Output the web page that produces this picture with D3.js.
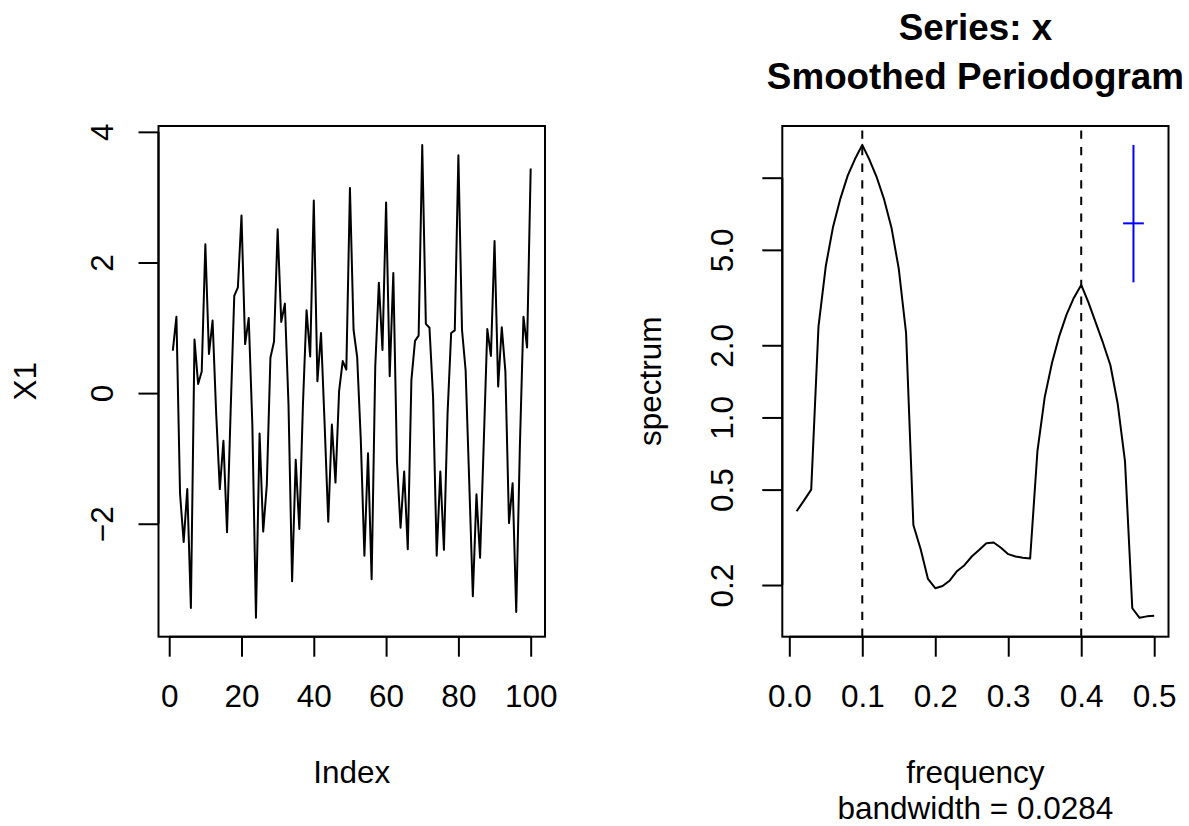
<!DOCTYPE html>
<html>
<head>
<meta charset="utf-8">
<script src="https://cdn.jsdelivr.net/npm/d3@7"></script>
<style>
  body { margin: 0; background: #fff; }
  svg text { font-family: "Liberation Sans", Arial, Helvetica, sans-serif; fill: #000; }
</style>
</head>
<body>
<div id="chart"></div>
<script>
// left panel: the raw series
var x1Values = [
  0.65, 1.17, -1.54, -2.28, -1.47, -3.29, 0.82, 0.14, 0.33, 2.28,
  0.60, 1.11, -0.32, -1.47, -0.73, -2.13, -0.27, 1.49, 1.62, 2.72,
  0.75, 1.15, -0.48, -3.44, -0.62, -2.12, -1.41, 0.54, 0.79, 2.51,
  1.09, 1.37, -0.17, -2.88, -1.02, -2.08, -0.17, 1.27, 0.56, 2.95,
  0.18, 0.92, -0.48, -1.97, -0.48, -1.37, 0.03, 0.49, 0.36, 3.14,
  0.97, 0.55, -0.71, -2.49, -0.92, -2.85, 0.40, 1.69, 0.66, 2.92,
  0.26, 1.84, -1.04, -2.06, -1.20, -2.39, 0.20, 0.80, 0.88, 3.80,
  1.06, 1.00, -0.06, -2.49, -1.20, -2.40, -0.32, 0.92, 0.96, 3.64,
  0.97, 0.35, -1.36, -3.11, -1.55, -2.52, -0.79, 0.98, 0.57, 2.33,
  0.10, 1.01, 0.33, -1.99, -1.38, -3.35, -0.84, 1.17, 0.70, 3.44
];
var indexTicks = [0, 20, 40, 60, 80, 100];
var x1Ticks = [-2, 0, 2, 4];

// right panel: smoothed periodogram
var freqValues = [
  0.01, 0.02, 0.03, 0.04, 0.05, 0.06, 0.07, 0.08, 0.09, 0.10,
  0.11, 0.12, 0.13, 0.14, 0.15, 0.16, 0.17, 0.18, 0.19, 0.20,
  0.21, 0.22, 0.23, 0.24, 0.25, 0.26, 0.27, 0.28, 0.29, 0.30,
  0.31, 0.32, 0.33, 0.34, 0.35, 0.36, 0.37, 0.38, 0.39, 0.40,
  0.41, 0.42, 0.43, 0.44, 0.45, 0.46, 0.47, 0.48, 0.49, 0.50
];
var specValues = [
  0.406, 0.45, 0.50, 2.40, 4.28, 6.25, 8.18, 10.2, 11.96, 13.7,
  11.85, 10.0, 8.1, 6.19, 4.17, 2.25, 0.356, 0.282, 0.212, 0.194,
  0.198, 0.209, 0.229, 0.242, 0.263, 0.280, 0.299, 0.301, 0.286, 0.269,
  0.263, 0.260, 0.258, 0.723, 1.215, 1.69, 2.19, 2.69, 3.16, 3.57,
  3.01, 2.48, 2.04, 1.65, 1.14, 0.656, 0.160, 0.146, 0.148, 0.149
];
var freqTicks = [0, 0.1, 0.2, 0.3, 0.4, 0.5];
var specTicks = [0.2, 0.5, 1, 2, 5, 10];
var specTickLabels = ["0.2", "0.5", "1.0", "2.0", "5.0", ""];
var peakFreqs = [0.1, 0.4];
var ciValues = [3.66, 6.45, 13.7];   // lower, centre, upper
var bandwidth = 0.0284;

var W = 1189, H = 826;
var plotTop = 126, plotBottom = 636.7;
var fontSize = 31.5;

// R style axis range: extend by 4% each side
function pad(ext){
  var d = (ext[1] - ext[0]) * 0.04;
  return [ext[0] - d, ext[1] + d];
}

var svg = d3.select('#chart').append('svg')
      .attr('width', W)
      .attr('height', H);

svg.append('rect').attr('width', W).attr('height', H).attr('fill', '#fff');

function box(x0, x1){
  svg.append('rect')
    .attr('x', x0).attr('y', plotTop)
    .attr('width', x1 - x0).attr('height', plotBottom - plotTop)
    .attr('fill', 'none').attr('stroke', '#000').attr('stroke-width', 2);
}

function styleAxis(g){
  g.select('.domain').remove();
  g.attr('font-family', null).attr('font-size', fontSize);
  g.selectAll('.tick line').attr('stroke-width', 2);
}

function bottomAxis(scale, ticks, fmt){
  var g = svg.append('g')
    .attr('transform', 'translate(0,' + plotBottom + ')')
    .call(d3.axisBottom(scale).tickValues(ticks).tickSize(20).tickFormat(fmt));
  styleAxis(g);
  g.selectAll('.tick text').attr('y', 70.3).attr('dy', 0);
  g.append('line')
    .attr('x1', scale(ticks[0])).attr('x2', scale(ticks[ticks.length - 1]))
    .attr('stroke', '#000').attr('stroke-width', 2);
}

function leftAxis(scale, ticks, fmt, x0, labelGap){
  var g = svg.append('g')
    .attr('transform', 'translate(' + x0 + ',0)')
    .call(d3.axisLeft(scale).tickValues(ticks).tickSize(20).tickFormat(fmt));
  styleAxis(g);
  g.selectAll('.tick text')
    .attr('x', 0).attr('dy', 0)
    .attr('text-anchor', 'middle')
    .attr('transform', 'translate(' + (-labelGap) + ',0) rotate(-90)');
  g.append('line')
    .attr('y1', scale(ticks[0])).attr('y2', scale(ticks[ticks.length - 1]))
    .attr('stroke', '#000').attr('stroke-width', 2);
}

function label(txt, x, y, rotate, bold, size){
  svg.append('text')
    .attr('transform', 'translate(' + x + ',' + y + ')' + (rotate ? ' rotate(-90)' : ''))
    .attr('text-anchor', 'middle')
    .attr('font-size', size || fontSize)
    .attr('font-weight', bold ? 'bold' : 'normal')
    .text(txt);
}

/**
 * Left: plot(x[,1]) style index plot
 */
var leftX0 = 158.5, leftX1 = 545;
var xL = d3.scaleLinear().domain(pad([1, x1Values.length])).range([leftX0, leftX1]);
var yL = d3.scaleLinear().domain(pad(d3.extent(x1Values))).range([plotBottom, plotTop]);

svg.append('path')
  .datum(x1Values)
  .attr('fill', 'none')
  .attr('stroke', '#000')
  .attr('stroke-width', 2)
  .attr('stroke-linejoin', 'round')
  .attr('d', d3.line()
        .x(function(d, i){ return xL(i + 1); })
        .y(function(d){ return yL(d); }));

box(leftX0, leftX1);
bottomAxis(xL, indexTicks, d3.format('d'));
leftAxis(yL, x1Ticks, function(d){ return d < 0 ? '\u2212' + Math.abs(d) : String(d); }, leftX0, 45.8);

var leftMid = (leftX0 + leftX1) / 2;
var plotMidY = (plotTop + plotBottom) / 2;
label('Index', leftMid, 783);
label('X1', 36, plotMidY, true);

/**
 * Right: smoothed periodogram on log scale
 */
var rightX0 = 782.3, rightX1 = 1168.5;
var xR = d3.scaleLinear().domain(pad(d3.extent(freqValues))).range([rightX0, rightX1]);
var logExt = pad(d3.extent(specValues).map(Math.log10));
var yR = d3.scaleLog()
      .domain([Math.pow(10, logExt[0]), Math.pow(10, logExt[1])])
      .range([plotBottom, plotTop]);

peakFreqs.forEach(function(f){
  svg.append('line')
    .attr('x1', xR(f)).attr('x2', xR(f))
    .attr('y1', plotBottom).attr('y2', plotTop)
    .attr('stroke', '#000').attr('stroke-width', 2)
    .attr('stroke-dasharray', '8.3,8.3');
});

svg.append('path')
  .datum(specValues)
  .attr('fill', 'none')
  .attr('stroke', '#000')
  .attr('stroke-width', 2)
  .attr('stroke-linejoin', 'round')
  .attr('d', d3.line()
        .x(function(d, i){ return xR(freqValues[i]); })
        .y(function(d){ return yR(d); }));

// confidence bar
var ciX = d3.max(freqValues) - bandwidth;
svg.append('line')
  .attr('x1', xR(ciX)).attr('x2', xR(ciX))
  .attr('y1', yR(ciValues[0])).attr('y2', yR(ciValues[2]))
  .attr('stroke', '#0000FF').attr('stroke-width', 2);
svg.append('line')
  .attr('x1', xR(ciX - bandwidth / 2)).attr('x2', xR(ciX + bandwidth / 2))
  .attr('y1', yR(ciValues[1])).attr('y2', yR(ciValues[1]))
  .attr('stroke', '#0000FF').attr('stroke-width', 2);

box(rightX0, rightX1);
bottomAxis(xR, freqTicks, d3.format('.1f'));
leftAxis(yR, specTicks, function(d, i){ return specTickLabels[i]; }, rightX0, 49.5);

var rightMid = (rightX0 + rightX1) / 2;
label('frequency', rightMid, 783);
label('bandwidth = ' + bandwidth, rightMid, 819.3);
label('spectrum', 661, plotMidY, true);
label('Series: x', rightMid, 40, false, true, 36.8);
label('Smoothed Periodogram', rightMid, 89, false, true, 36.8);
</script>
</body>
</html>
